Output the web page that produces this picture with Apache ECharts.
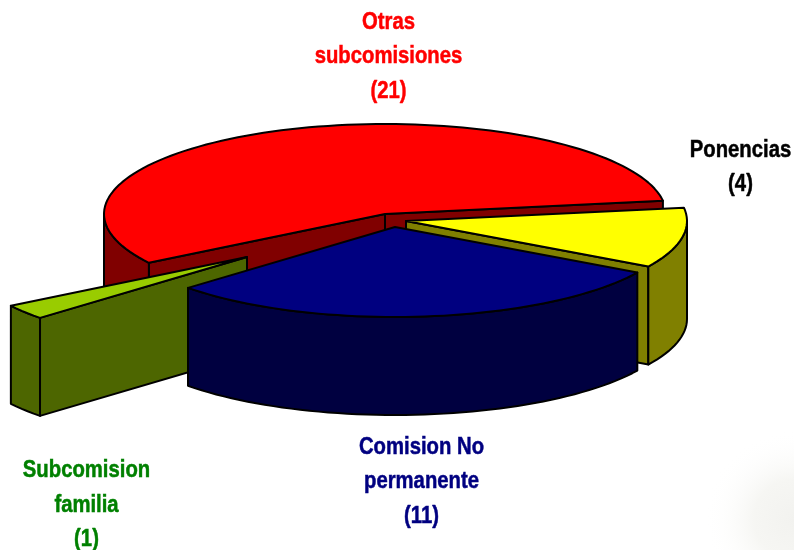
<!DOCTYPE html>
<html>
<head>
<meta charset="utf-8">
<style>html,body{margin:0;padding:0;background:#fff}#chart{width:794px;height:550px}</style>
<script src="https://cdn.jsdelivr.net/npm/echarts@6/dist/echarts.min.js"></script>
</head>
<body>
<div id="chart"></div>
<script>
// Data, clockwise from the pie's starting angle
var categories = ['Ponencias', 'Comision No\npermanente', 'Subcomision\nfamilia', 'Otras\nsubcomisiones'];
var values = [4, 11, 1, 21];

// Styles and layout
var topColors = ['#ffff00', '#000080', '#99cc00', '#ff0000'];
var wallColors = ['#808000', '#000040', '#4d6600', '#800000'];
var labelColors = ['#000000', '#000080', '#008000', '#ff0000'];
var sliceCenters = [[406, 221], [395, 227], [247, 257], [385, 214]];
var labelCenters = [[740.5, 167.5], [421.5, 481.5], [86.5, 505], [388.5, 56.5]];
var drawOrder = [3, 0, 2, 1];
var RX = 281, RY = 90, DEPTH = 98, START = 351.5;

var total = values.reduce(function (s, v) { return s + v; }, 0);
var starts = [];
values.reduce(function (acc, v, i) { starts[i] = acc; return acc + v / total * 360; }, START);

function rad(d) { return d * Math.PI / 180; }
function pt(c, a, dz) { return [c[0] + RX * Math.cos(rad(a)), c[1] + RY * Math.sin(rad(a)) + (dz || 0)]; }
function arc(c, a, b, dz) {
  var out = [], n = Math.max(2, Math.ceil(Math.abs(b - a) / 2));
  for (var i = 0; i <= n; i++) out.push(pt(c, a + (b - a) * i / n, dz));
  return out;
}
function poly(points, fill) {
  return { type: 'polygon', shape: { points: points },
    style: { fill: fill, stroke: '#000', lineWidth: 2, lineJoin: 'round' } };
}

function renderItem(params, api) {
  var idx = api.value(0), value = api.value(1);
  var a = starts[idx], b = a + value / total * 360;
  var c = sliceCenters[idx], wall = wallColors[idx];
  var kids = [];
  var c2 = [c[0], c[1] + DEPTH];
  function face(angle) {
    var p = pt(c, angle);
    kids.push(poly([c, p, [p[0], p[1] + DEPTH], c2], wall));
  }
  if (Math.cos(rad(a)) < 0) face(a);
  if (Math.cos(rad(b)) > 0) face(b);
  // outer wall: the part of the rim turned to the viewer
  [0, 360].forEach(function (k) {
    var lo = Math.max(a, k), hi = Math.min(b, k + 180);
    if (hi > lo) {
      var t = arc(c, lo, hi, 0), low = arc(c, hi, lo, DEPTH);
      kids.push(poly(t.concat(low), wall));
    }
  });
  // top surface
  kids.push(poly([c].concat(arc(c, a, b, 0)), topColors[idx]));
  return { type: 'group', children: kids };
}

var option = {
  animation: false,
  backgroundColor: '#ffffff',
  graphic: [
    { type: 'rect', silent: true, z: -1, shape: { x: 680, y: 380, width: 114, height: 170 },
      style: { fill: { type: 'radial', x: 1, y: 0.82, r: 0.78,
        colorStops: [{ offset: 0, color: '#f2f2ef' }, { offset: 0.45, color: '#f6f6f3' }, { offset: 1, color: 'rgba(255,255,255,0)' }] } } }
  ].concat(categories.map(function (name, i) {
    return { type: 'text', z: 10, x: labelCenters[i][0], y: labelCenters[i][1], scaleX: 0.845,
      style: { text: name + '\n(' + values[i] + ')', fill: labelColors[i], stroke: labelColors[i], lineWidth: 0.5,
        font: 'bold 24px "Liberation Sans", Arial, sans-serif', lineHeight: 34.5,
        textAlign: 'center', textVerticalAlign: 'middle' } };
  })),
  series: [{
    type: 'custom',
    coordinateSystem: 'none',
    silent: true,
    renderItem: renderItem,
    data: drawOrder.map(function (i) { return [i, values[i]]; })
  }]
};

var chart = echarts.init(document.getElementById('chart'), null, { renderer: 'canvas' });
chart.setOption(option);
</script>
</body>
</html>
